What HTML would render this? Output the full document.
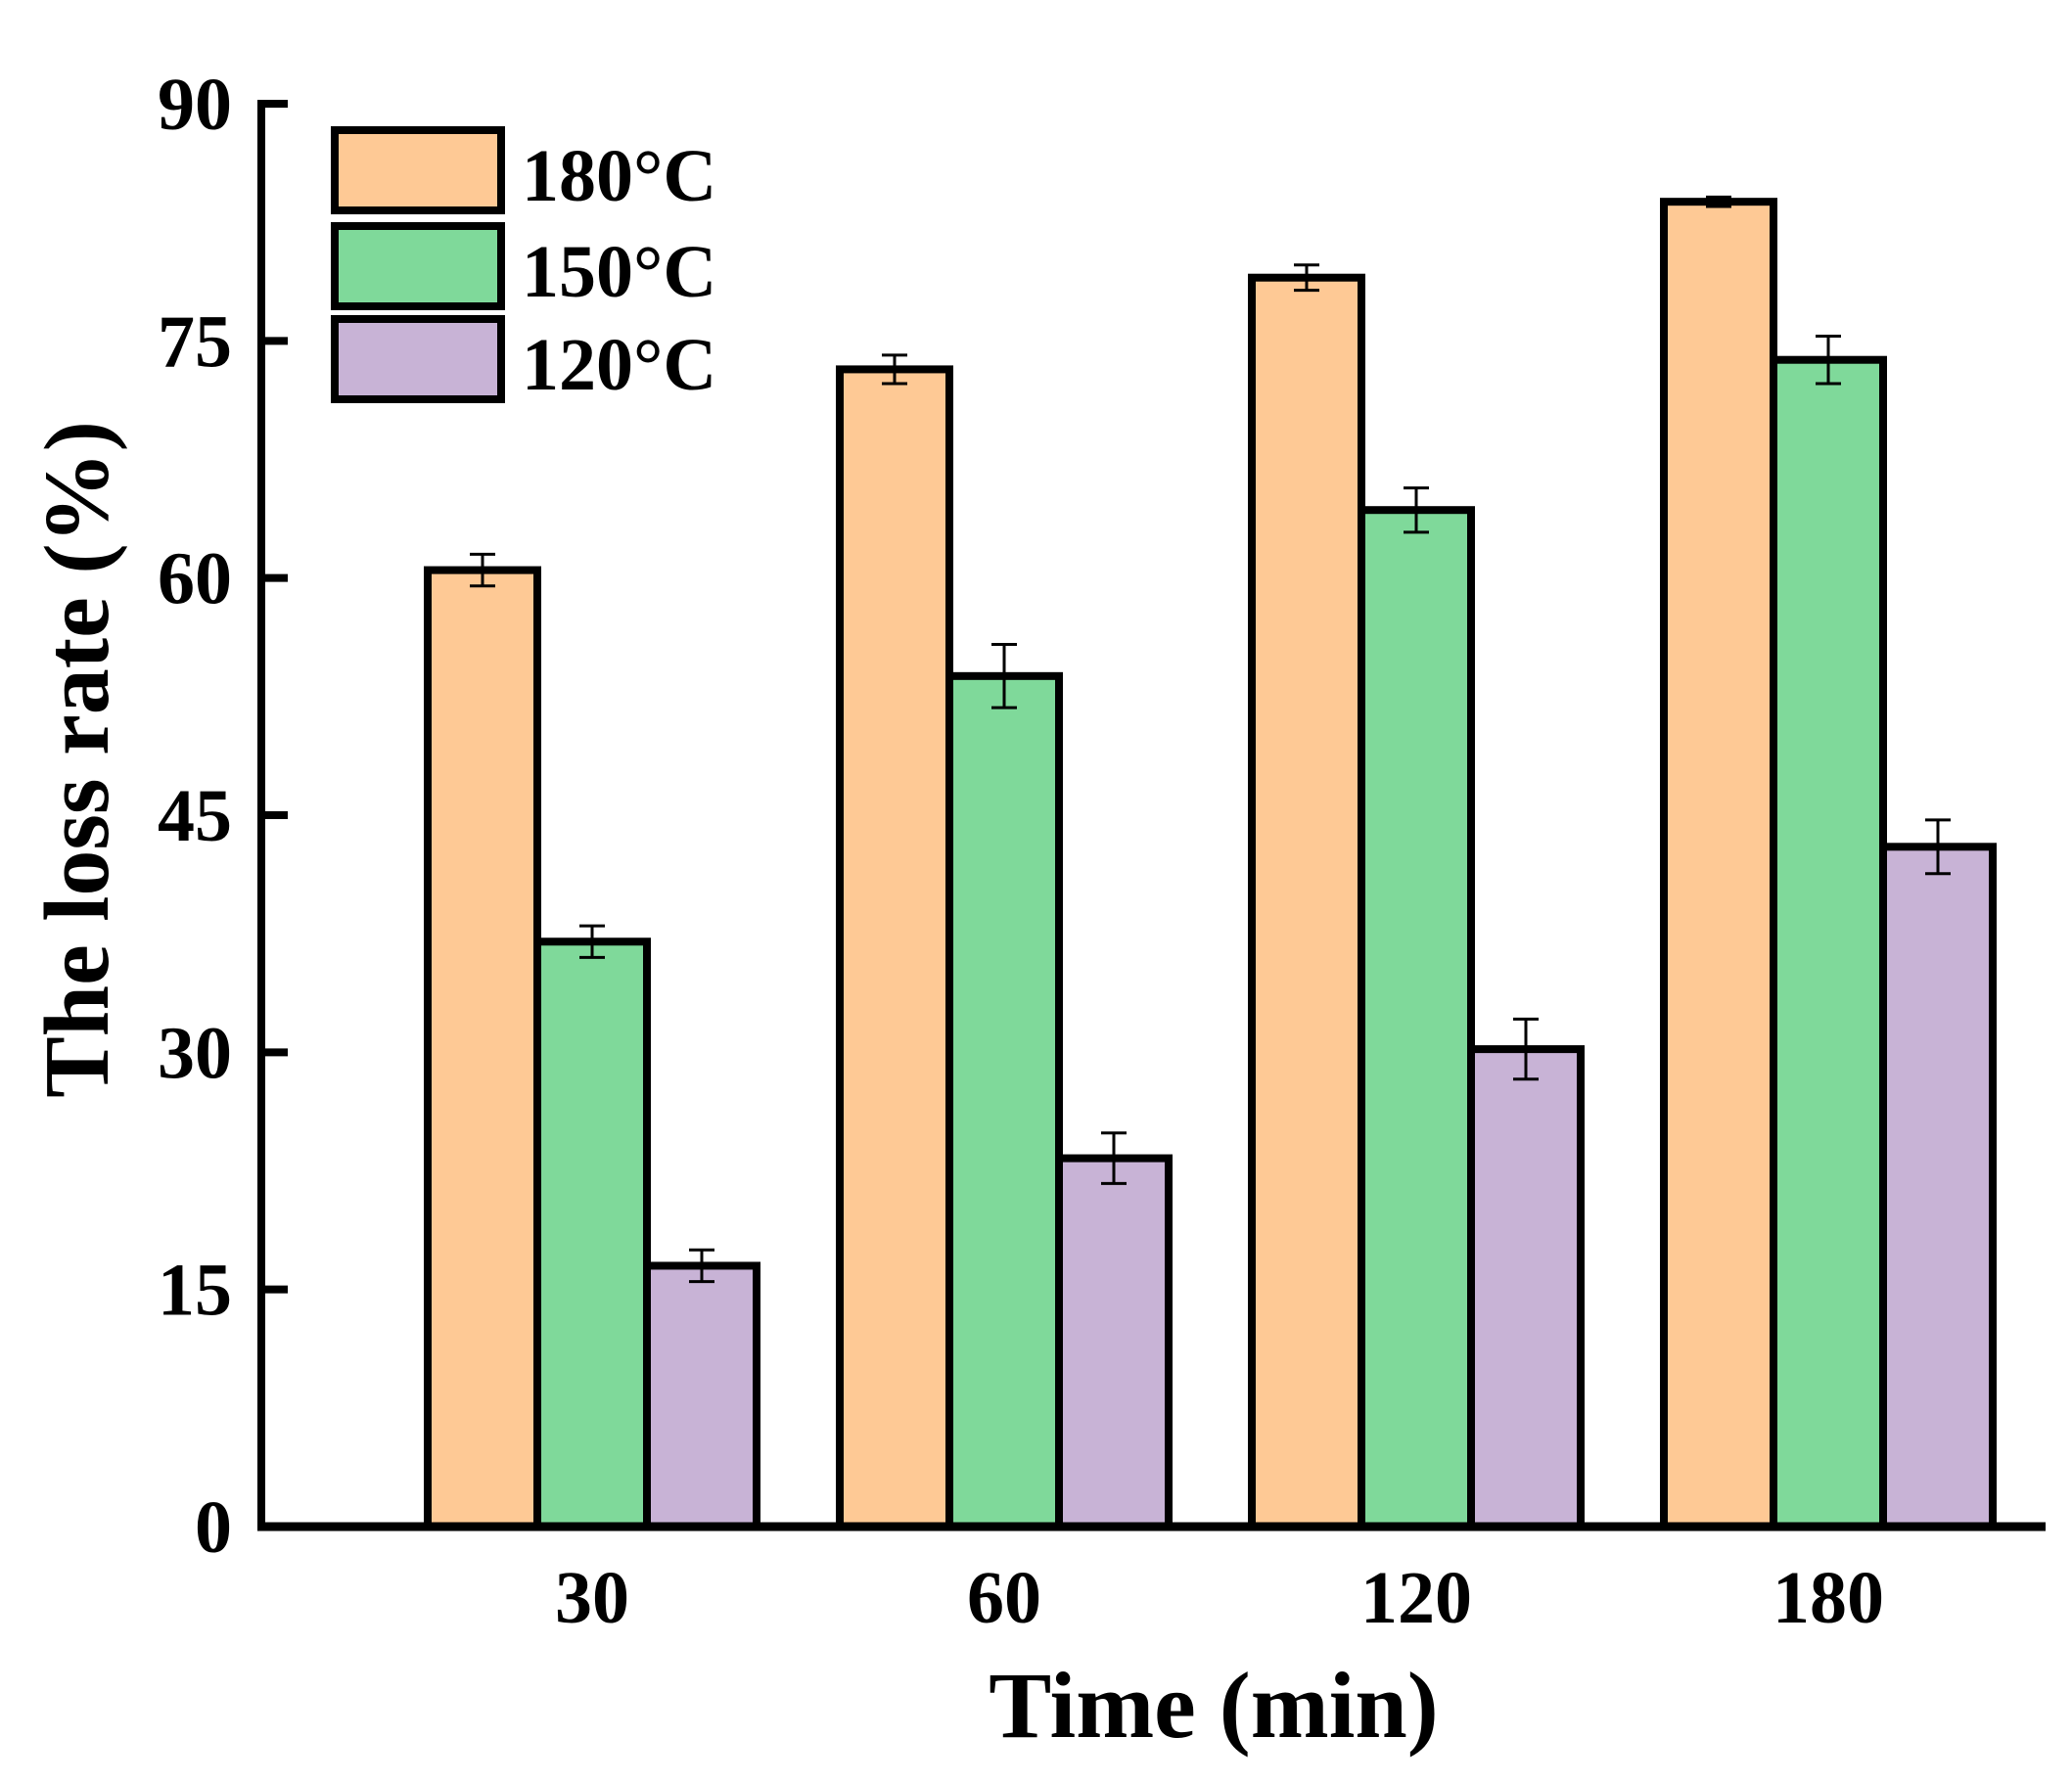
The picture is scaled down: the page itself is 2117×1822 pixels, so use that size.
<!DOCTYPE html>
<html><head><meta charset="utf-8"><style>
html,body{margin:0;padding:0;background:#fff}
svg{display:block}
text{font-family:"Liberation Serif",serif;font-weight:bold;fill:#000}
</style></head><body>
<svg id="chart" width="2117" height="1822" viewBox="0 0 2117 1822" xmlns="http://www.w3.org/2000/svg">
<g id="bars"></g>
<g id="axes"></g>
<g id="legend"></g>
<text transform="translate(110,776) rotate(-90)" text-anchor="middle" font-size="94">The loss rate (%)</text>
<text x="1240" y="1775" text-anchor="middle" font-size="96">Time (min)</text>
</svg>
<script>
const categories = ["30","60","120","180"];
const seriesNames = ["180°C","150°C","120°C"];
const s180 = [60.5, 73.2, 79.0, 83.8];
const s150 = [37.0, 53.8, 64.3, 73.8];
const s120 = [16.5, 23.3, 30.2, 43.0];
const e180 = [1.0, 0.9, 0.8, 0.3];
const e150 = [1.0, 2.0, 1.4, 1.5];
const e120 = [1.0, 1.6, 1.9, 1.7];
const yTicks = [0,15,30,45,60,75,90];

const colors = ["#fec995","#7fd99a","#c8b3d6"];
const series = [s180, s150, s120];
const errs = [e180, e150, e120];
const NS = "http://www.w3.org/2000/svg";
const X0 = 267, Y0 = 1560, YT = 106, XR = 2090;
const yS = v => Y0 - (v/90)*(Y0-YT);
const groupX = i => 605 + i*421;
const BW = 112;
function mk(tag, attrs, parent){const e=document.createElementNS(NS,tag);for(const k in attrs)e.setAttribute(k,attrs[k]);parent.appendChild(e);return e;}
const bars = document.getElementById('bars');
categories.forEach((c,i)=>{
  series.forEach((s,j)=>{
    const x = groupX(i) + (j-1)*BW - BW/2;
    const y = yS(s[i]);
    const r = mk('rect',{x:x,y:y,width:BW,height:Y0-y,fill:colors[j],stroke:'#000','stroke-width':8},bars);
    
    
    const cx = x + BW/2, e = errs[j][i];
    const g = mk('g',{stroke:'#000','stroke-width':3},bars);
    
    
    mk('line',{x1:cx,x2:cx,y1:yS(s[i]+e),y2:yS(s[i]-e)},g);
    mk('line',{x1:cx-13,x2:cx+13,y1:yS(s[i]+e),y2:yS(s[i]+e)},g);
    mk('line',{x1:cx-13,x2:cx+13,y1:yS(s[i]-e),y2:yS(s[i]-e)},g);
  });
});
const axes = document.getElementById('axes');
let a = mk('line',{x1:X0,x2:X0,y1:YT-4,y2:Y0+4,stroke:'#000','stroke-width':8},axes);


a = mk('line',{x1:X0-4,x2:XR,y1:Y0,y2:Y0,stroke:'#000','stroke-width':9},axes);


yTicks.forEach(t=>{
  const y=yS(t);
  const tk = mk('line',{x1:X0,x2:X0+27,y1:y,y2:y,stroke:'#000','stroke-width':8},axes);
  
  
  const tx = mk('text',{x:237,y:y+26,'text-anchor':'end','font-size':76},axes);
  tx.textContent = t;
  
  
});
categories.forEach((c,i)=>{
  const tx = mk('text',{x:groupX(i),y:1658,'text-anchor':'middle','font-size':76},axes);
  tx.textContent = c;
  
  
});
const legend = document.getElementById('legend');
const ly = [133, 231, 326];
seriesNames.forEach((n,j)=>{
  const r = mk('rect',{x:342,y:ly[j],width:170,height:82,fill:colors[j],stroke:'#000','stroke-width':8},legend);
  
  
  const t = mk('text',{x:533,y:ly[j]+72,'font-size':76},legend);
  t.textContent = n;
  
  
});
</script>
</body></html>
